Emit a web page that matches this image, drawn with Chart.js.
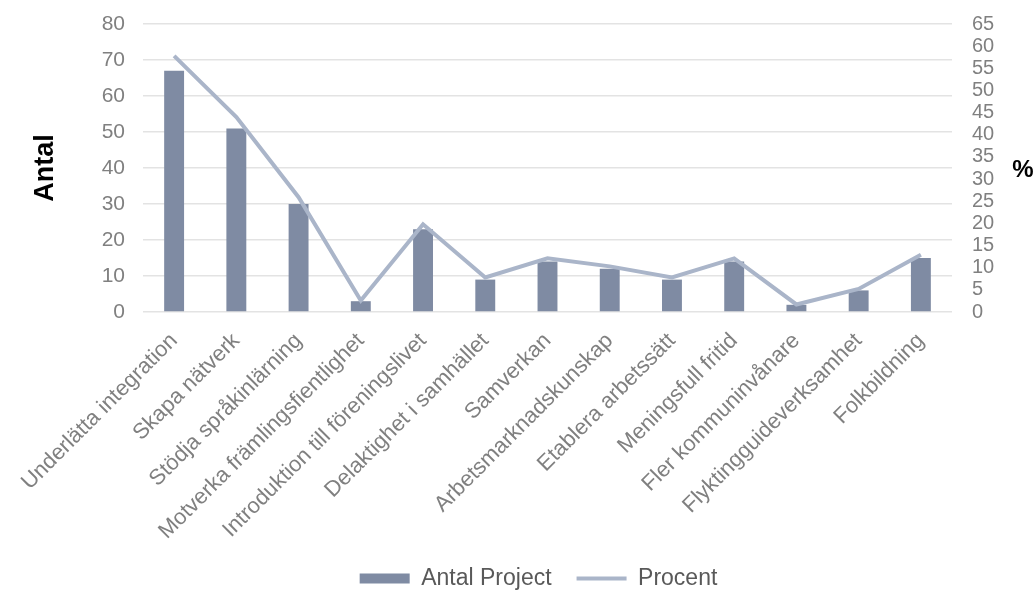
<!DOCTYPE html>
<html>
<head>
<meta charset="utf-8">
<script src="https://cdn.jsdelivr.net/npm/chart.js@4/dist/chart.umd.min.js"></script>
<style>
  html, body { margin: 0; padding: 0; background: #ffffff; overflow: hidden; }
  canvas { display: block; }
</style>
</head>
<body>
<canvas id="c" width="1033" height="592"></canvas>
<script>
// Project aims: number of projects and share of projects (%)
const categories = [
  'Underlätta integration', 'Skapa nätverk', 'Stödja språkinlärning',
  'Motverka främlingsfientlighet', 'Introduktion till föreningslivet',
  'Delaktighet i samhället', 'Samverkan', 'Arbetsmarknadskunskap',
  'Etablera arbetssätt', 'Meningsfull fritid', 'Fler kommuninvånare',
  'Flyktingguideverksamhet', 'Folkbildning'
];
const antalProject = [67, 51, 30, 3, 23, 9, 14, 12, 9, 14, 2, 6, 15];
const procent = [57.8, 44.0, 25.9, 2.6, 19.8, 7.8, 12.1, 10.3, 7.8, 12.1, 1.7, 5.2, 12.9];
const leftTicks = [0, 10, 20, 30, 40, 50, 60, 70, 80];
const rightTicks = [0, 5, 10, 15, 20, 25, 30, 35, 40, 45, 50, 55, 60, 65];

const FONT = "'Liberation Sans', Arial, sans-serif";
const TICK_GREY = '#808080';

// Unrotated "%" title beside the right-hand axis
const percentTitle = {
  id: 'percentTitle',
  afterDraw(chart) {
    const s = chart.scales.y2;
    const ctx = chart.ctx;
    ctx.save();
    ctx.font = 'bold 24px ' + FONT;
    ctx.fillStyle = '#000000';
    ctx.textAlign = 'center';
    ctx.textBaseline = 'middle';
    ctx.fillText('%', s.right - 10, (s.top + s.bottom) / 2 + 2);
    ctx.restore();
  }
};

// Nudge the legend row slightly right of the canvas centre
const legendShift = {
  id: 'legendShift',
  afterLayout(chart) {
    const lg = chart.legend;
    if (lg) { lg.left += 22; lg.right += 22; }
  }
};

new Chart(document.getElementById('c'), {
  type: 'bar',
  data: {
    labels: categories,
    datasets: [
      {
        type: 'line',
        label: 'Procent',
        data: procent,
        yAxisID: 'y2',
        borderColor: '#aab5c9',
        backgroundColor: '#aab5c9',
        borderWidth: 4,
        tension: 0,
        pointRadius: 0,
        pointHoverRadius: 0,
        pointStyle: 'line',
        order: 0
      },
      {
        type: 'bar',
        label: 'Antal Project',
        data: antalProject,
        yAxisID: 'y',
        backgroundColor: '#7f8ba3',
        borderWidth: 0,
        categoryPercentage: 1,
        barPercentage: 0.32,
        pointStyle: 'rect',
        order: 1
      }
    ]
  },
  options: {
    responsive: false,
    animation: false,
    devicePixelRatio: 1,
    layout: { padding: { top: 24, left: 0, right: 0, bottom: -8 } },
    plugins: {
      tooltip: { enabled: false },
      legend: {
        position: 'bottom',
        labels: {
          usePointStyle: true,
          pointStyleWidth: 50,
          boxHeight: 10,
          padding: 25,
          color: '#595959',
          font: { family: FONT, size: 23 },
          sort: (a, b) => b.datasetIndex - a.datasetIndex
        }
      }
    },
    scales: {
      x: {
        grid: { display: false },
        border: { display: false },
        ticks: {
          autoSkip: false,
          maxRotation: 45,
          minRotation: 45,
          padding: 8,
          color: TICK_GREY,
          font: { family: FONT, size: 22 }
        },
        afterFit: (s) => { s.height = 230; s.paddingTop = 0; }
      },
      y: {
        position: 'left',
        min: 0,
        max: 80,
        afterBuildTicks: (s) => { s.ticks = leftTicks.map(v => ({ value: v })); },
        grid: { color: '#e3e3e3', lineWidth: 1.5, drawTicks: false },
        border: { display: false },
        ticks: {
          padding: 18,
          color: TICK_GREY,
          font: { family: FONT, size: 21 }
        },
        title: {
          display: true,
          text: 'Antal',
          color: '#000000',
          font: { family: FONT, size: 27, weight: 'bold' },
          padding: { top: 29, bottom: 0 }
        },
        afterFit: (s) => { s.width = 143; s.paddingTop = 0; s.paddingBottom = 0; }
      },
      y2: {
        position: 'right',
        min: 0,
        max: 65,
        afterBuildTicks: (s) => { s.ticks = rightTicks.map(v => ({ value: v })); },
        grid: { display: false, drawTicks: false },
        border: { display: false },
        ticks: {
          autoSkip: false,
          padding: 20,
          color: TICK_GREY,
          font: { family: FONT, size: 20 }
        },
        afterFit: (s) => { s.width = 81; s.paddingTop = 0; s.paddingBottom = 0; }
      }
    }
  },
  plugins: [percentTitle, legendShift]
});
</script>
</body>
</html>
